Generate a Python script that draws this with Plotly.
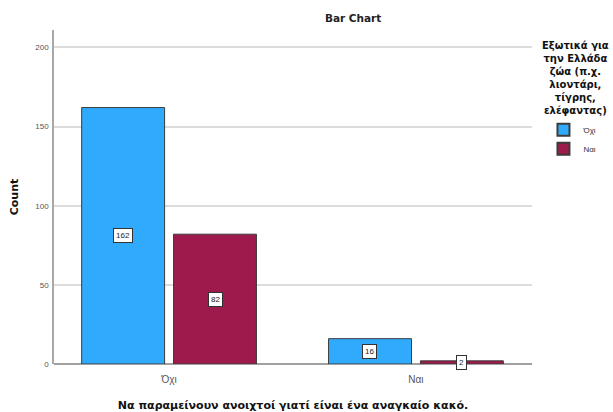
import plotly.graph_objects as go

categories = ["Όχι", "Ναι"]
series_names = ["Όχι", "Ναι"]
series_oxi = [162, 16]
series_nai = [82, 2]
y_ticks = [0, 50, 100, 150, 200]

colors = ["#30AAFC", "#9E1A4C"]
FONT = "Liberation Sans, Arial, sans-serif"
WIDE = "DejaVu Sans, Verdana, sans-serif"

fig = go.Figure()
for name, vals, col in zip(series_names, [series_oxi, series_nai], colors):
    fig.add_trace(go.Bar(
        x=categories, y=vals, name=name,
        marker=dict(color=col, line=dict(color="#3c3c3c", width=1)),
        hoverinfo="skip",
    ))

# value labels (boxed) at mid-height of each bar
for i, vals in enumerate([series_oxi, series_nai]):
    shift = -46 if i == 0 else 46
    for c, v in zip(categories, vals):
        fig.add_annotation(
            x=c, y=v / 2, xref="x", yref="y", text=str(v), showarrow=False,
            xshift=shift, font=dict(size=8, color="#222", family=FONT),
            bgcolor="white", bordercolor="#333", borderwidth=1, borderpad=2,
        )

legend_title = "<b>Εξωτικά για<br>την Ελλάδα<br>ζώα (π.χ.<br>λιοντάρι,<br>τίγρης,<br>ελέφαντας)</b>"
fig.add_annotation(
    text=legend_title, xref="paper", yref="paper", x=1.092, y=0.975,
    xanchor="center", yanchor="top", align="center", showarrow=False,
    font=dict(size=10, color="#111", family=WIDE),
)

fig.update_layout(
    width=613, height=412,
    margin=dict(l=54, r=81, t=30, b=48, autoexpand=False),
    paper_bgcolor="white", plot_bgcolor="white",
    barmode="group", bargap=0.256, bargroupgap=0.097,
    font=dict(family=FONT, size=9, color="#333"),
    title=dict(text="<b>Bar Chart</b>", x=0.576, xref="container", xanchor="center",
               y=0.965, yanchor="top",
               font=dict(size=10.5, color="#222", family=WIDE)),
    showlegend=True,
    legend=dict(
        x=1.024, xanchor="left", y=0.745, yanchor="top",
        font=dict(size=8, color="#333", family=FONT),
        itemsizing="constant", tracegroupgap=0, itemwidth=30,
        bgcolor="rgba(0,0,0,0)",
    ),
    xaxis=dict(
        range=[-0.466, 1.47],
        showgrid=False, showline=False, automargin=False,
        ticks="outside", ticklen=6, tickcolor="rgba(0,0,0,0)",
        tickfont=dict(size=10, color="#555"),
        title=dict(text="<b>Να παραμείνουν ανοιχτοί γιατί είναι ένα αναγκαίο κακό.</b>",
                   font=dict(size=11, color="#111", family=WIDE), standoff=18),
    ),
    yaxis=dict(
        range=[0, 211], tickvals=y_ticks, automargin=False,
        showgrid=True, gridcolor="#dcdcdc", gridwidth=1.5,
        showline=True, linecolor="#a8a8a8", linewidth=1.5,
        zeroline=True, zerolinecolor="#a0a0a0", zerolinewidth=1.5,
        ticks="outside", ticklen=2, tickcolor="rgba(0,0,0,0)",
        tickfont=dict(size=8, color="#555"),
        title=dict(text="<b>Count</b>", font=dict(size=11, color="#111", family=WIDE), standoff=14),
    ),
)

fig.write_html("out.html", config={"displayModeBar": False},
               post_script="document.body.style.margin='0px';")
